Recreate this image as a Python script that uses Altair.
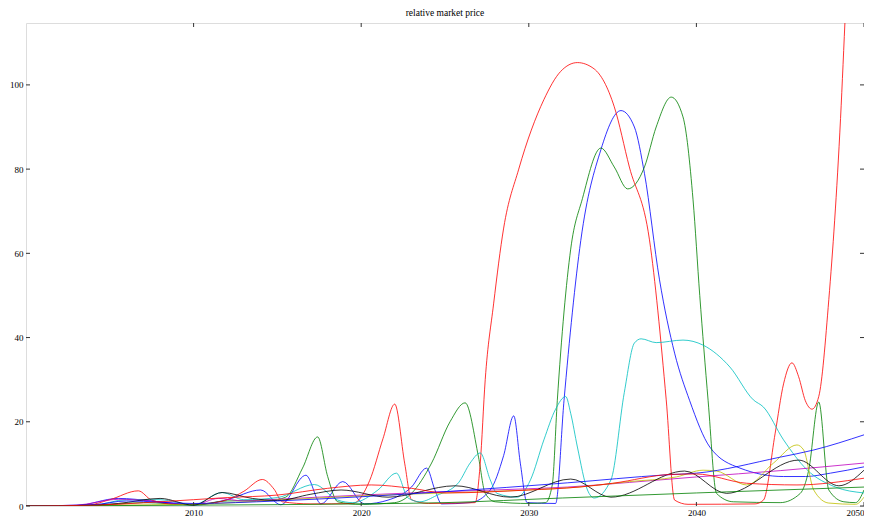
import altair as alt
import pandas as pd

# ---- data ----
blue_years = [2000, 2003, 2005.5, 2007.5, 2009, 2010, 2012, 2014, 2015.2, 2016.7, 2017.6, 2018.9, 2020.2,
              2021.6, 2023, 2023.9, 2024.4, 2024.8, 2026.5, 2027.7, 2028.5, 2029.1, 2029.5, 2029.9, 2031.6,
              2032.1, 2033.1, 2034.3, 2035.5, 2036.3, 2036.9, 2037.8, 2038.7, 2039.6, 2040.8, 2042.6,
              2045.2, 2046.5, 2048, 2050]
blue_values = [0, 0.1, 1.8, 1.2, 0.5, 0.2, 1.5, 3.8, 0.3, 7.3, 0.5, 5.8, 0.5,
               1.4, 4.5, 9, 3.8, 0.5, 0.8, 3.8, 12, 21.4, 10, 0.8, 0.6,
               25, 63, 84.6, 93.9, 90, 79, 53.7, 36.3, 25, 14, 9,
               7, 7, 7.8, 9.3]

green_years = [2000, 2004, 2007, 2010, 2012, 2014.5, 2015.5, 2016.5, 2017.4, 2018, 2018.6, 2020, 2022, 2023,
               2024.2, 2025.3, 2026.2, 2027, 2027.4, 2028, 2030, 2031, 2031.4, 2031.7, 2032.5, 2033.2,
               2034.3, 2035.1, 2035.9, 2036.9, 2037.6, 2038.5, 2039.2, 2039.8, 2040.2, 2040.7, 2041.2,
               2042.2, 2045, 2046.2, 2046.7, 2047.3, 2047.9, 2048.8, 2049.5, 2050]
green_values = [0, 0.1, 0.8, 0.3, 1.2, 1.3, 2.1, 9, 16.4, 7, 1, 0.4, 0.8, 3,
                10.2, 20, 24.5, 11.6, 3, 1, 0.6, 0.8, 5, 25, 61, 73,
                85, 80.5, 75.3, 80.5, 90, 97.1, 92.4, 72.7, 50, 25, 3,
                1, 0.8, 3, 8.5, 24.7, 3.8, 1, 0.8, 3.8]

red_years = [2000, 2003.5, 2005, 2006.7, 2007.5, 2009, 2010.5, 2012, 2013, 2014.1, 2014.8, 2015.3, 2017,
             2019.5, 2020.5, 2021.3, 2022, 2022.6, 2023, 2024, 2026.8, 2027.1, 2027.4, 2027.9, 2028.5,
             2029.4, 2030.9, 2031.9, 2032.9, 2033.9, 2035.1, 2036, 2037.2, 2038.2, 2038.7, 2039.5,
             2043.5, 2044, 2044.7, 2045.2, 2045.7, 2046.1, 2046.5, 2046.9, 2047.3, 2047.9, 2048.6,
             2048.9, 2049.3]
red_values = [0, 0.1, 1.5, 3.6, 1.4, 0.4, 0.5, 1.5, 3.5, 6.3, 4, 1, 0.5,
              0.6, 6, 16, 24.2, 10, 1.5, 0.6, 0.8, 10, 30, 48, 66,
              80, 96.5, 103.2, 105.3, 103.8, 94.8, 80.5, 63.2, 25.2, 1.4, 0.4,
              0.5, 1.4, 17.3, 29, 34, 30.7, 25, 23, 26, 49, 92,
              118, 150]

cyan_years = [2000, 2004, 2006, 2008, 2010, 2011.7, 2013, 2015, 2017.2, 2018.6, 2019.5, 2021, 2022.1, 2022.8,
              2023.5, 2024.5, 2025.8, 2026.5, 2027.1, 2027.7, 2028.1, 2029.3, 2030.1, 2030.9, 2031.6,
              2032.2, 2032.5, 2032.9, 2033.5, 2033.9, 2034.9, 2035.7, 2036.3, 2036.7, 2037.6, 2039.2,
              2040.4, 2042, 2043.4, 2044, 2045.2, 2046.6, 2048.3, 2050]
cyan_values = [0, 0.2, 1.5, 1.5, 0.3, 3.2, 1.5, 2, 5.1, 1.4, 0.8, 3.8, 7.8, 1.9,
               1, 2.5, 5.5, 10.2, 12.6, 6.2, 3, 2.1, 6.2, 15.7, 23,
               26, 22, 14, 3.8, 1.9, 6.2, 27, 38.7, 39.7, 38.8, 39.4,
               38.2, 33, 25.2, 23.5, 15.7, 8.6, 4.5, 3.1]

magenta_years = [2000, 2003, 2005.5, 2007.5, 2009, 2010, 2011.5, 2013, 2015, 2020, 2025, 2030, 2032.3,
                 2036, 2040, 2045, 2050]
magenta_values = [0, 0.2, 1.6, 1.2, 0.5, 0.3, 1.8, 1.2, 1.6, 2.6, 3.4, 4.1, 4.5,
                  5.6, 6.9, 8.4, 10.2]

yellow_years = [2000, 2005, 2010, 2015, 2020, 2025, 2030, 2033, 2036, 2038.8, 2040.4, 2041.2, 2043,
                2044.6, 2046, 2046.4, 2047, 2047.9, 2049.5, 2050]
yellow_values = [0, 0.2, 0.4, 1.4, 2.4, 3.1, 3.8, 4.5, 5.8, 6.9, 8.5, 8.3, 5,
                 10.2, 14.5, 13.3, 3.8, 0.7, 0.4, 2.1]

black_years = [2000, 2003, 2005.5, 2008, 2010, 2011.7, 2013.5, 2015, 2017, 2018.8, 2021.6, 2025.6, 2028.9,
               2032.5, 2034.9, 2039.3, 2041.8, 2046.1, 2048.5, 2050]
black_values = [0, 0.1, 0.6, 1.8, 0.2, 3.2, 1.8, 1.3, 2.8, 3.8, 2.1, 4.8, 2.1,
                6.4, 2.1, 8.3, 3, 10.9, 4.8, 8.5]

blue2_years = [2000, 2004, 2006, 2010, 2015, 2020, 2025, 2032.3, 2038.2, 2040, 2045, 2047, 2050]
blue2_values = [0, 0.3, 1.2, 0.6, 1.2, 2.2, 3.4, 5.5, 7.4, 7.8, 11.6, 13.3, 16.9]

green2_years = [2000, 2010, 2020, 2025, 2032, 2040, 2050]
green2_values = [0, 0.2, 0.5, 0.8, 1.9, 3.1, 4.5]

red2_years = [2000, 2004, 2008, 2012, 2015, 2018, 2020.6, 2023, 2025, 2030, 2033, 2035, 2038.5, 2040,
              2043, 2046, 2050]
red2_values = [0, 0.2, 1, 2, 2.6, 4.2, 5, 4.2, 3.1, 3.8, 4.5, 5.4, 7.5, 7.6,
               5.4, 5, 6.6]

series_names = ["b1", "g1", "r1", "c1", "m1", "y1", "k1", "b2", "g2", "r2"]
series_colors = ["#0000ff", "#008000", "#ff0000", "#00bfbf", "#bf00bf", "#bfbf00", "#000000",
                 "#0000ff", "#008000", "#ff0000"]
series_data = [(blue_years, blue_values), (green_years, green_values), (red_years, red_values),
               (cyan_years, cyan_values), (magenta_years, magenta_values), (yellow_years, yellow_values),
               (black_years, black_values), (blue2_years, blue2_values), (green2_years, green2_values),
               (red2_years, red2_values)]

x_ticks = [2010, 2020, 2030, 2040, 2050]
y_ticks = [0, 20, 40, 60, 80, 100]
title_text = "relative market price"

rows = []
for name, (ys, vs) in zip(series_names, series_data):
    for k, (yr, v) in enumerate(zip(ys, vs)):
        rows.append({"series": name, "year": yr, "value": v, "idx": k})
df = pd.DataFrame(rows)

W, H = 838, 483
FONT = "Liberation Serif"

x_enc = alt.X("year:Q", scale=alt.Scale(domain=[2000, 2050], nice=False, zero=False),
              axis=alt.Axis(values=x_ticks, format="d", title=None, ticks=False, domain=False, grid=False,
                            labelFont=FONT, labelFontSize=9, labelColor="#000", labelPadding=2,
                            labelFlush=True, labelOverlap=False))
y_enc = alt.Y("value:Q", scale=alt.Scale(domain=[0, 114.7], nice=False),
              axis=alt.Axis(values=y_ticks, title=None, ticks=False, domain=False, grid=False,
                            labelFont=FONT, labelFontSize=9, labelColor="#000", labelPadding=3,
                            labelFlush=False, labelOverlap=False))

lines = alt.Chart(df).mark_line(clip=True, strokeWidth=1, interpolate="monotone", opacity=0.8).encode(
    x=x_enc, y=y_enc,
    color=alt.Color("series:N", scale=alt.Scale(domain=series_names, range=series_colors), legend=None),
    order="idx:Q",
)

xt = pd.DataFrame({"year": x_ticks})
yt = pd.DataFrame({"value": y_ticks})
tick_style = dict(color="#333", strokeWidth=1)
xb = alt.Chart(xt).mark_rule(**tick_style).encode(x=x_enc, y=alt.value(H), y2=alt.value(H - 4))
xtop = alt.Chart(xt).mark_rule(**tick_style).encode(x=x_enc, y=alt.value(0), y2=alt.value(4))
yl = alt.Chart(yt).mark_rule(**tick_style).encode(y=y_enc, x=alt.value(0), x2=alt.value(4))
yr_ = alt.Chart(yt).mark_rule(**tick_style).encode(y=y_enc, x=alt.value(W), x2=alt.value(W - 4))

chart = alt.layer(lines, xb, xtop, yl, yr_).properties(
    width=W, height=H,
    title=alt.Title(title_text, font=FONT, fontSize=9.5, fontWeight="normal", color="#000", offset=5),
    padding={"left": 18, "top": 15, "right": 0, "bottom": 10},
    autosize=alt.AutoSizeParams(type="none"),
).configure_view(stroke="#333", strokeWidth=1).configure(background="white")

chart.save("out.html", embed_options={"renderer": "svg", "actions": False})
